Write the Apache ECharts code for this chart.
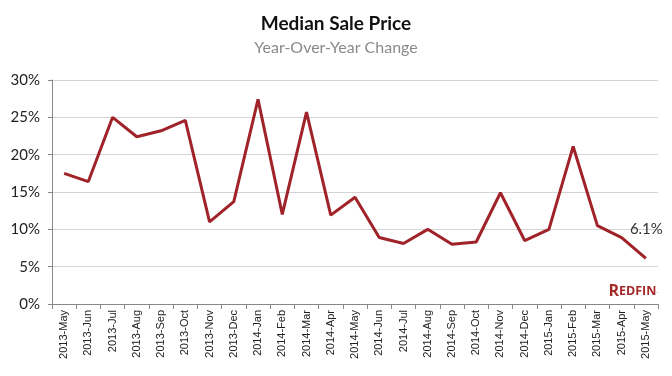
<!DOCTYPE html>
<html>
<head>
<meta charset="utf-8">
<script src="https://cdn.jsdelivr.net/npm/echarts@6/dist/echarts.min.js"></script>
<style>
  html, body { margin: 0; padding: 0; background: #fff; }
  #chart { width: 672px; height: 376px; }
</style>
</head>
<body>
<div id="chart"></div>
<script>
const months = [
  '2013-May', '2013-Jun', '2013-Jul', '2013-Aug', '2013-Sep', '2013-Oct',
  '2013-Nov', '2013-Dec', '2014-Jan', '2014-Feb', '2014-Mar', '2014-Apr',
  '2014-May', '2014-Jun', '2014-Jul', '2014-Aug', '2014-Sep', '2014-Oct',
  '2014-Nov', '2014-Dec', '2015-Jan', '2015-Feb', '2015-Mar', '2015-Apr',
  '2015-May'
];
const yoyChange = [
  17.5, 16.4, 25.0, 22.4, 23.2, 24.6,
  11.0, 13.7, 27.4, 12.0, 25.7, 11.9,
  14.3, 8.9, 8.1, 10.0, 8.0, 8.3,
  14.9, 8.5, 10.0, 21.1, 10.5, 8.9,
  6.1
];
const yTicks = [0, 5, 10, 15, 20, 25, 30];

const myChart = echarts.init(document.getElementById('chart'));

const option = {
  animation: false,
  title: {
    text: 'Median Sale Price',
    subtext: 'Year-Over-Year Change',
    left: 'center',
    top: 9,
    itemGap: 7,
    textStyle: {
      fontFamily: 'Lato',
      fontWeight: 'bold',
      fontSize: 19,
      color: '#111'
    },
    subtextStyle: {
      fontFamily: 'Lato',
      fontSize: 16,
      color: '#8a8a8a'
    }
  },
  grid: {
    left: 52,
    right: 14,
    top: 80,
    bottom: 72
  },
  xAxis: {
    type: 'category',
    data: months,
    boundaryGap: true,
    axisLine: { lineStyle: { color: '#888', width: 1 } },
    axisTick: { show: true, alignWithLabel: false, length: 5, lineStyle: { color: '#888' } },
    axisLabel: {
      rotate: 90,
      interval: 0,
      color: '#222',
      fontSize: 11,
      fontFamily: 'Liberation Sans',
      margin: 6
    }
  },
  yAxis: {
    type: 'value',
    min: yTicks[0],
    max: yTicks[yTicks.length - 1],
    interval: 5,
    axisLine: { show: true, lineStyle: { color: '#888' } },
    axisTick: { show: true, length: 4, lineStyle: { color: '#888' } },
    axisLabel: {
      formatter: '{value}%',
      color: '#222',
      fontSize: 15,
      fontFamily: 'Lato',
      margin: 12
    },
    splitLine: { lineStyle: { color: '#d4d4d4', width: 1 } }
  },
  series: [
    {
      name: 'YoY',
      type: 'line',
      data: yoyChange,
      symbol: 'none',
      lineStyle: { color: '#a0232a', width: 3 },
      itemStyle: { color: '#a0232a' },
      endLabel: {
        show: true,
        formatter: '{c}%',
        color: '#333',
        fontSize: 15,
        fontFamily: 'Lato',
        offset: [-24, -29]
      }
    }
  ],
  graphic: [
    {
      type: 'text',
      right: 14,
      top: 283,
      style: {
        text: '{a|R}{b|EDFIN}{c|.}',
        rich: {
          a: { fontSize: 16, fontWeight: 'bold', fontFamily: 'Open Sans', fill: '#a52a2a' },
          b: { fontSize: 12.5, fontWeight: 'bold', fontFamily: 'Open Sans', fill: '#a52a2a' },
          c: { fontSize: 6, fontFamily: 'Open Sans', fill: '#a52a2a' }
        }
      }
    }
  ]
};

myChart.setOption(option);
</script>
</body>
</html>
